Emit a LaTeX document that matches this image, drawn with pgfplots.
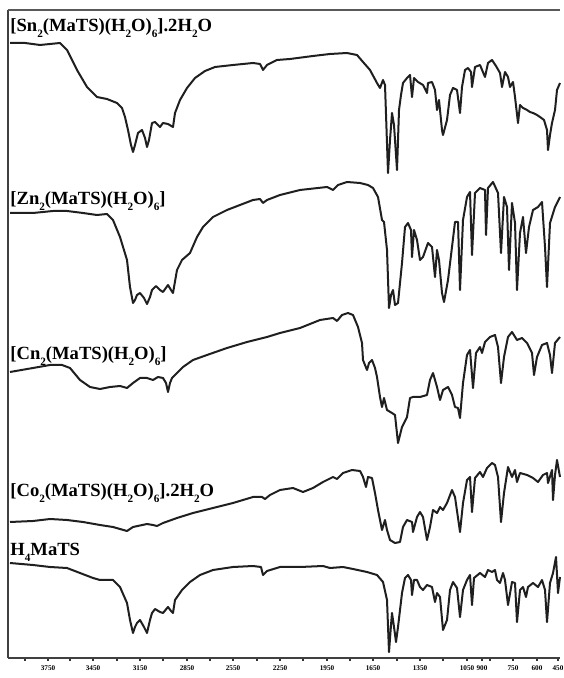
\documentclass[border=0pt]{standalone}
\usepackage{fontspec}
\setmainfont{Liberation Serif}
\usepackage{pgfplots}
\pgfplotsset{compat=1.18}

\newcommand{\lab}[1]{\fontsize{9.3}{10}\selectfont\bfseries #1}
\newcommand{\sub}[1]{\raisebox{-0.32em}{\fontsize{5.6}{6}\selectfont #1}}

\begin{document}
\begin{tikzpicture}
\begin{axis}[
  scale only axis,
  width=276pt, height=324pt,
  xmin=8, xmax=560, ymin=-658, ymax=-10,
  axis x line*=bottom, axis y line*=left,
  axis line style={-, draw=black!75, line width=0.9pt},
  ytick=\empty,
  xtick={48,93,140,187,233,280,327,373,420,467,482,513,537,558},
  xticklabels={3750,3450,3150,2850,2550,2250,1950,1650,1350,1050,900,750,600,450},
  minor xtick={25,70,117,163,210,257,303,350,397,443,490},
  tick align=outside,
  major tick length=1.3pt, minor tick length=1.3pt,
  every tick/.style={black!80, line width=0.8pt},
  xticklabel style={font=\fontsize{3.6}{4}\selectfont\bfseries, inner sep=0pt, yshift=-2.4pt},
  clip=false,
  spec/.style={black!88, line width=1pt, line join=round, mark=none},
]
% frame line along the top
\draw[black!65, line width=0.9pt] (axis cs:8,-10) -- (axis cs:560,-10);

% [Sn2(MaTS)(H2O)6].2H2O
\addplot[spec] coordinates {(10,-43)(25,-43)(40,-45)(50,-44)(60,-43)(67,-50)(77,-70)(87,-87)(97,-97)(107,-99)(117,-103)(122,-108)(125,-117)(128,-130)(131,-145)(133,-152)(135,-145)(138,-133)(142,-130)(145,-138)(147,-147)(149,-140)(152,-123)(155,-122)(160,-127)(163,-123)(168,-124)(173,-127)(175,-113)(180,-100)(187,-88)(195,-78)(205,-71)(215,-67)(233,-65)(253,-63)(260,-64)(263,-70)(267,-65)(277,-60)(290,-59)(313,-56)(330,-54)(347,-53)(357,-55)(363,-62)(370,-70)(377,-83)(380,-88)(383,-80)(385,-85)(388,-173)(390,-140)(392,-113)(394,-125)(397,-170)(399,-110)(401,-95)(403,-83)(407,-78)(410,-75)(412,-97)(414,-78)(418,-82)(423,-85)(427,-93)(428,-83)(432,-82)(435,-90)(437,-110)(439,-100)(442,-130)(443,-135)(447,-120)(450,-95)(453,-88)(457,-90)(460,-113)(462,-87)(465,-70)(468,-68)(471,-72)(472,-87)(475,-67)(480,-65)(485,-77)(488,-63)(492,-60)(496,-66)(500,-73)(502,-87)(505,-72)(508,-77)(510,-87)(513,-82)(515,-97)(518,-123)(520,-105)(523,-108)(527,-110)(530,-112)(533,-113)(537,-115)(540,-117)(544,-120)(547,-130)(548,-150)(550,-135)(552,-123)(555,-110)(557,-90)(560,-83)};

% [Zn2(MaTS)(H2O)6]
\addplot[spec] coordinates {(10,-213)(33,-213)(53,-211)(67,-211)(83,-213)(97,-215)(107,-214)(113,-220)(120,-237)(127,-260)(130,-287)(133,-303)(135,-300)(137,-295)(140,-293)(144,-298)(147,-304)(150,-297)(152,-290)(156,-286)(160,-290)(163,-292)(168,-285)(171,-290)(173,-293)(177,-270)(182,-260)(190,-253)(197,-237)(203,-227)(213,-217)(227,-210)(240,-205)(253,-200)(260,-199)(263,-203)(267,-200)(280,-195)(300,-190)(327,-187)(333,-190)(338,-185)(347,-182)(360,-183)(368,-185)(373,-188)(378,-197)(382,-220)(384,-222)(387,-250)(389,-308)(391,-295)(393,-290)(395,-305)(398,-303)(402,-263)(405,-227)(408,-223)(411,-230)(412,-257)(414,-230)(417,-240)(420,-260)(423,-257)(428,-243)(432,-247)(435,-277)(437,-250)(439,-260)(442,-293)(444,-302)(448,-280)(452,-247)(455,-222)(458,-222)(460,-290)(463,-220)(467,-197)(470,-192)(472,-255)(475,-193)(480,-188)(485,-190)(486,-235)(488,-188)(493,-182)(498,-193)(501,-253)(504,-197)(507,-207)(509,-270)(512,-203)(515,-223)(517,-290)(520,-233)(523,-217)(526,-253)(529,-227)(533,-210)(538,-207)(542,-202)(545,-247)(547,-287)(550,-223)(555,-207)(560,-197)};

% [Cu2(MaTS)(H2O)6]
\addplot[spec] coordinates {(10,-372)(33,-368)(50,-365)(62,-365)(70,-368)(80,-380)(90,-387)(100,-389)(110,-387)(120,-386)(127,-388)(133,-383)(140,-378)(147,-378)(153,-380)(158,-377)(163,-378)(166,-383)(168,-392)(170,-383)(172,-378)(175,-375)(183,-367)(193,-360)(207,-355)(227,-348)(247,-342)(267,-337)(280,-333)(300,-328)(320,-320)(333,-318)(337,-321)(342,-315)(348,-313)(353,-315)(358,-327)(362,-343)(363,-360)(367,-370)(369,-363)(372,-360)(375,-368)(377,-377)(380,-397)(382,-407)(384,-398)(387,-410)(392,-413)(395,-415)(398,-443)(402,-427)(407,-417)(410,-398)(413,-397)(420,-397)(427,-395)(430,-380)(433,-373)(437,-387)(440,-400)(443,-390)(448,-387)(452,-395)(455,-407)(458,-408)(460,-418)(463,-383)(467,-355)(470,-350)(473,-388)(476,-353)(480,-347)(482,-353)(485,-342)(490,-337)(495,-335)(498,-347)(501,-383)(504,-357)(508,-337)(512,-332)(517,-340)(522,-338)(527,-343)(532,-353)(534,-375)(537,-357)(542,-345)(547,-343)(550,-355)(552,-373)(555,-343)(560,-337)};

% [Co2(MaTS)(H2O)6].2H2O
\addplot[spec] coordinates {(10,-522)(33,-521)(50,-519)(67,-520)(83,-522)(100,-525)(113,-527)(127,-531)(133,-527)(147,-524)(153,-525)(157,-526)(163,-523)(177,-518)(193,-513)(213,-508)(233,-503)(253,-497)(262,-497)(265,-499)(270,-495)(280,-490)(293,-488)(303,-492)(313,-488)(323,-482)(333,-477)(337,-479)(343,-473)(352,-470)(360,-471)(363,-477)(366,-487)(368,-477)(372,-478)(375,-493)(378,-510)(382,-530)(385,-520)(387,-530)(390,-540)(395,-543)(400,-542)(403,-527)(407,-520)(412,-522)(413,-532)(417,-517)(420,-512)(423,-517)(427,-540)(430,-527)(433,-510)(437,-513)(440,-507)(443,-510)(447,-503)(452,-490)(455,-497)(460,-532)(463,-503)(467,-480)(470,-477)(472,-512)(475,-478)(480,-472)(483,-477)(487,-468)(492,-463)(495,-465)(498,-477)(501,-522)(504,-493)(508,-467)(512,-477)(515,-470)(517,-482)(520,-473)(527,-475)(533,-478)(538,-482)(543,-475)(547,-473)(548,-483)(552,-470)(553,-500)(555,-475)(557,-460)(560,-477)};

% H4MaTS
\addplot[spec] coordinates {(10,-563)(33,-565)(50,-567)(67,-568)(80,-573)(93,-578)(100,-580)(113,-580)(120,-587)(127,-603)(130,-620)(133,-633)(135,-627)(137,-623)(140,-620)(144,-627)(147,-633)(150,-620)(152,-613)(155,-609)(160,-612)(163,-613)(168,-607)(171,-611)(173,-613)(175,-600)(182,-590)(190,-582)(200,-575)(213,-570)(233,-567)(253,-566)(261,-567)(263,-575)(267,-571)(280,-567)(300,-567)(323,-566)(330,-568)(343,-567)(353,-569)(367,-572)(377,-575)(383,-582)(387,-600)(389,-652)(391,-625)(392,-613)(394,-627)(396,-642)(398,-627)(402,-593)(405,-578)(408,-575)(411,-580)(412,-595)(414,-580)(417,-580)(420,-587)(423,-590)(427,-585)(432,-587)(435,-602)(437,-593)(440,-597)(443,-630)(447,-620)(450,-590)(453,-582)(457,-588)(460,-617)(463,-590)(467,-580)(470,-575)(472,-605)(474,-578)(480,-573)(485,-577)(488,-570)(492,-572)(495,-570)(497,-580)(500,-583)(503,-573)(505,-580)(508,-605)(512,-582)(515,-583)(517,-622)(520,-590)(523,-587)(526,-597)(528,-587)(533,-583)(538,-587)(542,-580)(545,-590)(547,-622)(550,-583)(553,-573)(556,-557)(558,-593)(560,-577)};

% compound names
\node[anchor=base west, inner sep=0pt] at (axis cs:10,-32) {\lab{[Sn\sub{2}(MaTS)(H\sub{2}O)\sub{6}].2H\sub{2}O}};
\node[anchor=base west, inner sep=0pt] at (axis cs:10,-205) {\lab{[Zn\sub{2}(MaTS)(H\sub{2}O)\sub{6}]}};
\node[anchor=base west, inner sep=0pt] at (axis cs:10,-360) {\lab{[Cn\sub{2}(MaTS)(H\sub{2}O)\sub{6}]}};
\node[anchor=base west, inner sep=0pt] at (axis cs:10,-497) {\lab{[Co\sub{2}(MaTS)(H\sub{2}O)\sub{6}].2H\sub{2}O}};
\node[anchor=base west, inner sep=0pt] at (axis cs:10,-556) {\lab{H\sub{4}MaTS}};

% page extent
\path (axis cs:0,0) rectangle (axis cs:560,-678);
\end{axis}
\end{tikzpicture}
\end{document}
